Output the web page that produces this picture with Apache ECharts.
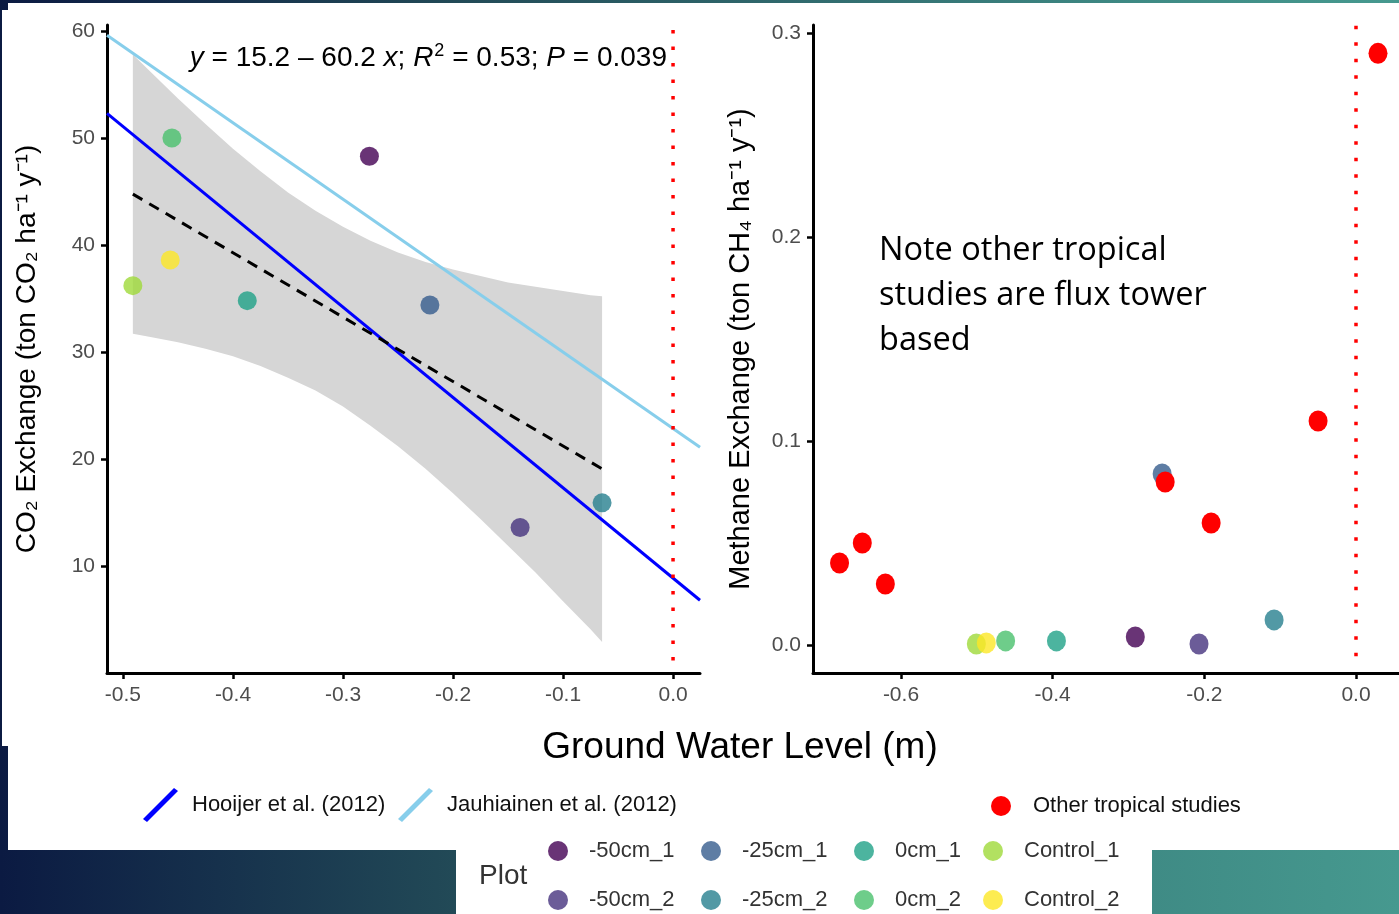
<!DOCTYPE html>
<html>
<head>
<meta charset="utf-8">
<title>Ground water level vs CO2 and CH4 exchange</title>
<script src="https://cdn.jsdelivr.net/npm/echarts@6/dist/echarts.min.js"></script>
<style>
  html, body { margin: 0; padding: 0; background: #ffffff; }
  #chart { width: 1399px; height: 914px; }
</style>
</head>
<body>
<div id="chart"></div>
<script>
// ---- plot identity ----
const plotNames  = ['-50cm_1', '-50cm_2', '-25cm_1', '-25cm_2', '0cm_1', '0cm_2', 'Control_1', 'Control_2'];
const plotColors = ['#440154', '#46337E', '#365C8D', '#277F8E', '#1FA187', '#4AC16D', '#9FDA3A', '#FDE725'];

// ---- CO2 exchange per plot (ground water level in m, t CO2 ha-1 y-1) ----
const co2Level = [-0.276, -0.139, -0.221, -0.0645, -0.387, -0.4555, -0.491, -0.457];
const co2Flux  = [48.3, 13.6, 34.4, 15.9, 34.8, 50.0, 36.2, 38.6];

// ---- CH4 exchange per plot (ground water level in m, t CH4 ha-1 y-1) ----
const ch4Level = [-0.291, -0.207, -0.2556, -0.108, -0.395, -0.462, -0.5006, -0.4875];
const ch4Flux  = [0.0039, 0.0005, 0.0838, 0.0123, 0.0020, 0.0020, 0.0005, 0.0010];

// ---- other tropical (flux tower) studies ----
const otherLevel = [-0.681, -0.651, -0.6206, -0.2516, -0.191, -0.050, 0.029];
const otherFlux  = [0.0402, 0.0500, 0.0299, 0.0799, 0.0598, 0.1098, 0.290];

// ---- linear fit y = 15.2 - 60.2 x over the observed range ----
const fitIntercept = 15.2;
const fitSlope = -60.2;
const fitRange = [-0.491, -0.0645];

// ---- 95% confidence band of the fit ----
const bandLevel = [-0.491, -0.475, -0.45, -0.425, -0.40, -0.375, -0.35, -0.325, -0.30, -0.275, -0.25,
                   -0.225, -0.20, -0.175, -0.15, -0.125, -0.10, -0.075, -0.0645];
const bandLow   = [31.7, 31.4, 30.9, 30.3, 29.6, 28.7, 27.6, 26.4, 24.9, 23.1, 21.2,
                   19.1, 16.8, 14.4, 11.9, 9.4, 6.7, 4.1, 2.9];
const bandHigh  = [57.8, 56.2, 53.7, 51.3, 49.0, 46.9, 44.9, 43.2, 41.7, 40.4, 39.3,
                   38.4, 37.7, 37.1, 36.5, 36.1, 35.7, 35.3, 35.2];

// ---- published relationships ----
const hooijerLevel = [-0.5145, 0.0245];
const hooijerFlux  = [52.3, 6.8];
const jauhLevel    = [-0.5145, 0.0245];
const jauhFlux     = [59.6, 21.1];

// ---- axis ticks ----
const co2XTicks = [-0.5, -0.4, -0.3, -0.2, -0.1, 0.0];
const co2YTicks = [10, 20, 30, 40, 50, 60];
const ch4XTicks = [-0.6, -0.4, -0.2, 0.0];
const ch4YTicks = [0.0, 0.1, 0.2, 0.3];

const FONT = 'Liberation Sans, Arial, sans-serif';
const TICK_GRAY = '#4d4d4d';

function zipPairs(xs, ys) { return xs.map((x, i) => [x, ys[i]]); }

function valueAxis(gridIndex, min, max, ticks, digits, extra) {
  return Object.assign({
    type: 'value',
    gridIndex: gridIndex,
    min: min,
    max: max,
    splitLine: { show: false },
    axisLine: { show: true, onZero: false, lineStyle: { color: '#000', width: 3 } },
    axisTick: { show: true, length: 6, customValues: ticks, lineStyle: { color: '#000', width: 2.5 } },
    axisLabel: {
      customValues: ticks,
      formatter: v => Number(v).toFixed(digits),
      color: TICK_GRAY, fontSize: 21, fontFamily: FONT, margin: 12
    }
  }, extra || {});
}

const series = [];

// confidence band
series.push({
  type: 'custom',
  name: 'band',
  xAxisIndex: 0, yAxisIndex: 0,
  z: 1,
  silent: true,
  data: bandLevel.map((x, i) => [x, bandLow[i], bandHigh[i]]),
  renderItem: function (params, api) {
    if (params.dataIndex !== 0) return null;
    const pts = [];
    for (let i = 0; i < bandLevel.length; i++) pts.push(api.coord([bandLevel[i], bandHigh[i]]));
    for (let i = bandLevel.length - 1; i >= 0; i--) pts.push(api.coord([bandLevel[i], bandLow[i]]));
    return { type: 'polygon', shape: { points: pts }, style: { fill: '#d6d6d6' } };
  }
});

// published lines
series.push({
  type: 'line', name: 'Hooijer et al. (2012)',
  xAxisIndex: 0, yAxisIndex: 0, z: 3,
  data: zipPairs(hooijerLevel, hooijerFlux),
  showSymbol: false, symbol: 'none',
  color: '#0000ff',
  itemStyle: { color: '#0000ff' },
  lineStyle: { color: '#0000ff', width: 3 }
});
series.push({
  type: 'line', name: 'Jauhiainen et al. (2012)',
  xAxisIndex: 0, yAxisIndex: 0, z: 3,
  data: zipPairs(jauhLevel, jauhFlux),
  showSymbol: false, symbol: 'none',
  color: '#87ceeb',
  itemStyle: { color: '#87ceeb' },
  lineStyle: { color: '#87ceeb', width: 3 }
});

// fitted regression line (dashed)
series.push({
  type: 'line', name: 'fit',
  xAxisIndex: 0, yAxisIndex: 0, z: 4,
  data: fitRange.map(x => [x, fitIntercept + fitSlope * x]),
  showSymbol: false, symbol: 'none',
  lineStyle: { color: '#000', width: 3, type: [11, 8] }
});

// zero water level reference lines (red dotted), drawn top to bottom
series.push({
  type: 'line', name: 'zeroCO2',
  xAxisIndex: 0, yAxisIndex: 0, z: 3,
  data: [[0, 60.1], [0, 0]],
  showSymbol: false, symbol: 'none',
  lineStyle: { color: '#ff0000', width: 3.5, type: [3.5, 13] }
});
series.push({
  type: 'line', name: 'zeroCH4',
  xAxisIndex: 1, yAxisIndex: 1, z: 3,
  data: [[0, 0.3035], [0, -0.0113]],
  showSymbol: false, symbol: 'none',
  lineStyle: { color: '#ff0000', width: 3.5, type: [3.5, 13] }
});

// plot points on both panels
plotNames.forEach((name, i) => {
  series.push({
    type: 'scatter', name: name,
    xAxisIndex: 0, yAxisIndex: 0, z: 5,
    data: [[co2Level[i], co2Flux[i]]],
    symbolSize: 19,
    itemStyle: { color: plotColors[i], opacity: 0.8 }
  });
  series.push({
    type: 'scatter', name: name,
    xAxisIndex: 1, yAxisIndex: 1, z: 5,
    data: [[ch4Level[i], ch4Flux[i]]],
    symbolSize: [19, 21],
    itemStyle: { color: plotColors[i], opacity: 0.8 }
  });
});

// other tropical studies
series.push({
  type: 'scatter', name: 'Other tropical studies',
  xAxisIndex: 1, yAxisIndex: 1, z: 6,
  data: zipPairs(otherLevel, otherFlux),
  symbolSize: [19, 21],
  itemStyle: { color: '#ff0000', opacity: 1 }
});

// legends
const lineIcon = 'path://M0,31L31,0L35,3L4,34Z';
const legendText = { color: '#111', fontSize: 22, fontFamily: FONT, lineHeight: 22 };
const plotLegendText = { color: '#333', fontSize: 22, fontFamily: FONT, lineHeight: 20, padding: [0, 0, 0, 16] };

const legends = [
  { data: ['Hooijer et al. (2012)'], left: 143, top: 788, padding: 0, itemWidth: 35, itemHeight: 34, icon: lineIcon,
    textStyle: Object.assign({}, legendText, { padding: [0, 0, 0, 9] }) },
  { data: ['Jauhiainen et al. (2012)'], left: 398, top: 788, padding: 0, itemWidth: 35, itemHeight: 34, icon: lineIcon,
    textStyle: Object.assign({}, legendText, { padding: [0, 0, 0, 9] }) },
  { data: ['Other tropical studies'], left: 991, top: 795, padding: 0, itemWidth: 20, itemHeight: 20, icon: 'circle',
    textStyle: Object.assign({}, legendText, { padding: [0, 0, 0, 17] }) }
];
const plotColumns = [[0, 1], [2, 3], [4, 5], [6, 7]];
const columnCenters = [558, 711, 864, 993];
plotColumns.forEach((col, c) => {
  legends.push({
    data: col.map(i => plotNames[i]),
    orient: 'vertical',
    left: columnCenters[c] - 10, top: 840,
    padding: 0,
    itemWidth: 20, itemHeight: 20, itemGap: 27,
    icon: 'circle',
    textStyle: plotLegendText
  });
});

// page background and free text
const graphics = [
  { type: 'rect', z: -100, silent: true, shape: { x: 0, y: 0, width: 1399, height: 914 },
    style: { fill: { type: 'linear', x: 0, y: 0, x2: 1, y2: 0, colorStops: [
      { offset: 0, color: '#0b1a42' }, { offset: 0.326, color: '#224a57' },
      { offset: 0.823, color: '#3f8b85' }, { offset: 1, color: '#46998f' }] } } },
  { type: 'rect', z: -99, silent: true, shape: { x: 8, y: 3, width: 1391, height: 847 }, style: { fill: '#ffffff' } },
  { type: 'rect', z: -99, silent: true, shape: { x: 2, y: 10, width: 10, height: 736 }, style: { fill: '#ffffff' } },
  { type: 'rect', z: -99, silent: true, shape: { x: 456, y: 850, width: 696, height: 64 }, style: { fill: '#ffffff' } },
  { type: 'text', z: 10, x: 740, y: 748,
    style: { text: 'Ground Water Level (m)', fill: '#000', font: '37px ' + FONT, align: 'center', verticalAlign: 'middle' } },
  { type: 'text', z: 10, x: 667, y: 58,
    style: {
      text: '{i|y} = 15.2 \u2013 60.2 {i|x}; {i|R}{s|2} = 0.53; {i|P} = 0.039',
      fill: '#000', font: '28px ' + FONT, align: 'right', verticalAlign: 'middle',
      rich: {
        i: { fontStyle: 'italic', fontSize: 28, fontFamily: FONT, fill: '#000' },
        s: { fontSize: 18, fontFamily: FONT, fill: '#000', verticalAlign: 'top', padding: [0, 0, 13, 1] }
      }
    } },
  { type: 'text', z: 10, x: 879, y: 228,
    style: { text: 'Note other tropical\nstudies are flux tower\nbased', fill: '#000',
      font: '32.5px "Open Sans", sans-serif', lineHeight: 45, align: 'left', verticalAlign: 'top' } },
  { type: 'text', z: 10, x: 479, y: 876,
    style: { text: 'Plot', fill: '#333', font: '28px ' + FONT, align: 'left', verticalAlign: 'middle' } }
];

const option = {
  animation: false,
  backgroundColor: 'transparent',
  grid: [
    { left: 107, top: 25, width: 593, height: 648 },
    { left: 813, top: 25, width: 586, height: 648 }
  ],
  xAxis: [
    valueAxis(0, -0.5145, 0.0245, co2XTicks, 1),
    valueAxis(1, -0.716, 0.0567, ch4XTicks, 1)
  ],
  yAxis: [
    valueAxis(0, 0, 60.56, co2YTicks, 0, {
      name: 'CO\u2082 Exchange (ton CO\u2082 ha\u207B\u00B9 y\u207B\u00B9)',
      nameLocation: 'middle', nameGap: 66,
      nameTextStyle: { color: '#000', fontSize: 28, fontFamily: FONT }
    }),
    valueAxis(1, -0.01373, 0.3039, ch4YTicks, 1, {
      name: 'Methane Exchange (ton CH\u2084 ha\u207B\u00B9 y\u207B\u00B9)',
      nameLocation: 'middle', nameGap: 58,
      nameTextStyle: { color: '#000', fontSize: 29, fontFamily: FONT }
    })
  ],
  legend: legends,
  graphic: graphics,
  series: series
};

const chart = echarts.init(document.getElementById('chart'), null, { renderer: 'canvas' });
chart.setOption(option);
</script>
</body>
</html>
